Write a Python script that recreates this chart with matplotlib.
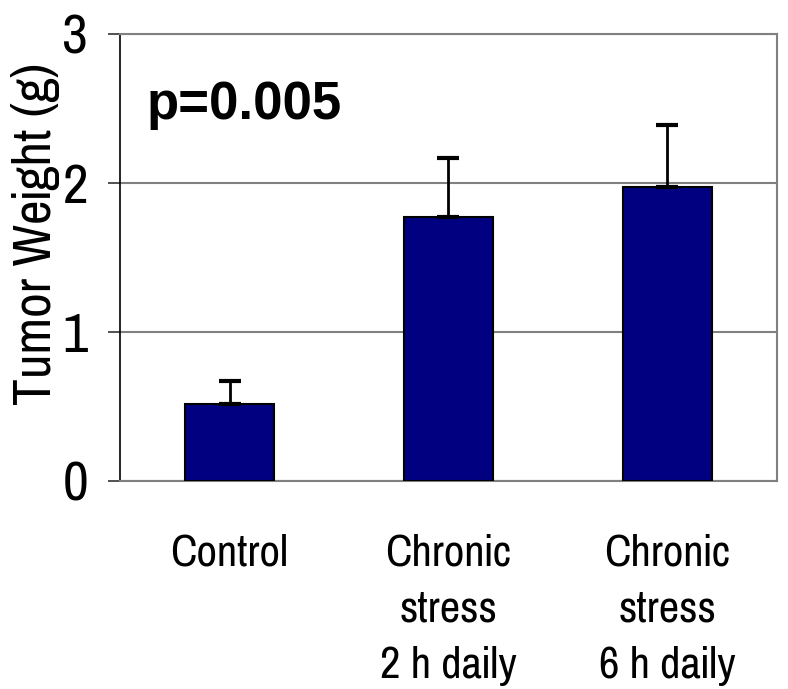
import numpy as np
import matplotlib
matplotlib.use("Agg")
import matplotlib.pyplot as plt

# values
groups = ["Control", "Chronic\nstress\n2 h daily", "Chronic\nstress\n6 h daily"]
weights = [0.52, 1.77, 1.97]
errors = [0.15, 0.40, 0.42]
y_ticks = [0, 1, 2, 3]

# Arial Narrow look-alike
narrow = ["Liberation Sans Narrow", "Pragati Narrow", "Roboto Condensed", "DejaVu Sans"]

fig = plt.figure(figsize=(7.88, 6.89), dpi=100)
ax = fig.add_axes([0.1523, 0.3019, 0.8337, 0.6488])

x = np.arange(len(groups))
ax.bar(x, weights, width=0.41, color="#000080", edgecolor="black",
       linewidth=1.5, zorder=3)
ax.errorbar(x, weights, yerr=[np.zeros(len(errors)), errors], fmt="none",
            ecolor="black", elinewidth=2, capsize=8, capthick=3, zorder=4)

ax.set_xlim(-0.5, 2.5)
ax.set_ylim(0, 3)
ax.set_yticks(y_ticks)
ax.set_yticklabels([str(t) for t in y_ticks], family=narrow, fontsize=44)
ax.set_xticks(x)
ax.set_xticklabels(groups, family=narrow, fontsize=35, linespacing=1.5)
ax.tick_params(axis="x", length=0, pad=38)
ax.tick_params(axis="y", length=9, width=1.2, color="#333333", pad=14)

ax.yaxis.grid(True, color="#808080", linewidth=1.5, zorder=0)
for side in ["top", "right", "bottom"]:
    ax.spines[side].set_color("#808080")
    ax.spines[side].set_linewidth(1.5)
ax.spines["left"].set_color("black")
ax.spines["left"].set_linewidth(1.2)

ax.set_ylabel("Tumor Weight (g)", family=narrow, fontsize=42, va="baseline")
ax.yaxis.set_label_coords(-0.105, 0.553)
ax.text(0.04, 0.81, "p=0.005", transform=ax.transAxes, fontsize=38,
        fontweight="bold", family=["Liberation Sans", "DejaVu Sans"])

fig.savefig("out.png", dpi=100)
